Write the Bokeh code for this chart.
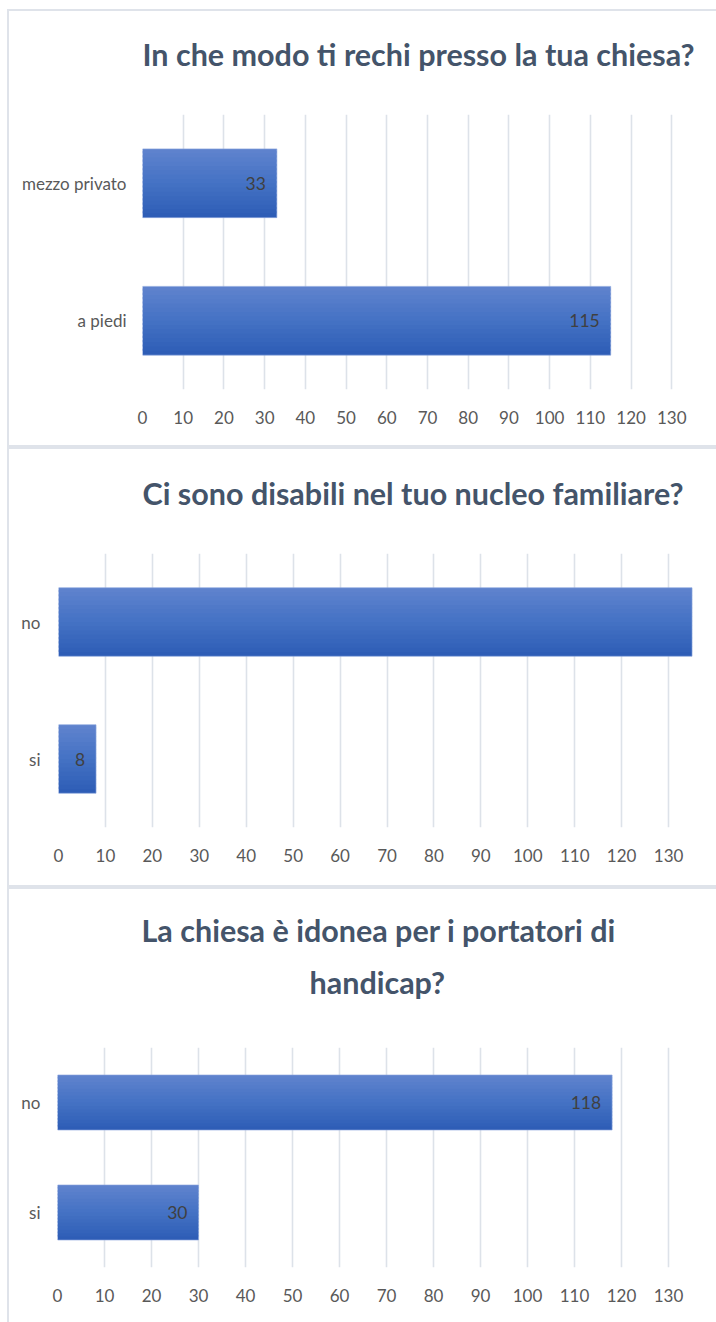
from bokeh.plotting import figure
from bokeh.models import Range1d, FactorRange, FixedTicker, LabelSet, ColumnDataSource, Title
from bokeh.transform import dodge
from bokeh.embed import file_html
from bokeh.resources import INLINE
from bokeh.core.properties import value

# ---------------- data ----------------
ticks = [0, 10, 20, 30, 40, 50, 60, 70, 80, 90, 100, 110, 120, 130]

title1 = ["In che modo ti rechi presso la tua chiesa?"]
cats1 = ["a piedi", "mezzo privato"]
vals1 = [115, 33]
show1 = [True, True]

title2 = ["Ci sono disabili nel tuo nucleo familiare?"]
cats2 = ["si", "no"]
vals2 = [8, 135]
show2 = [True, False]

title3 = ["La chiesa è idonea per i portatori di", "handicap?"]
cats3 = ["si", "no"]
vals3 = [30, 118]
show3 = [True, True]

# ---------------- style ----------------
FONT = "Lato"
TITLE_C = "#44546A"
TICK_C = "#595959"
LABEL_C = "#404040"
GRID_C = "#DDE2E9"
BORDER_C = "#DFE3EA"
TOP_C = (0x60, 0x83, 0xCE)
MID_C = (0x44, 0x72, 0xC4)
BOT_C = (0x2D, 0x5C, 0xB5)
N_STRIPS = 16


def strip_color(t):
    if t < 0.5:
        a, b, u = BOT_C, MID_C, t / 0.5
    else:
        a, b, u = MID_C, TOP_C, (t - 0.5) / 0.5
    return "#%02x%02x%02x" % tuple(int(round(a[i] + (b[i] - a[i]) * u)) for i in range(3))


def make_panel(title_lines, cats, vals, show, geo):
    st = {
        "border-top": "2px solid " + BORDER_C,
        "border-left": "2px solid " + BORDER_C,
        "margin-left": "7px",
    }
    if geo.get("bb", True):
        st["border-bottom"] = "2px solid " + BORDER_C
    if geo.get("mt"):
        st["margin-top"] = "%dpx" % geo["mt"]
    p = figure(
        width=709, height=geo["h"],
        y_range=FactorRange(*cats), x_range=Range1d(0, 140),
        output_backend="svg", toolbar_location=None,
        min_border_left=geo["l"], min_border_right=geo["r"],
        min_border_top=geo["t"], min_border_bottom=geo["b"],
        styles=st,
    )
    p.outline_line_color = None
    p.background_fill_color = "white"
    p.border_fill_color = "white"

    src = ColumnDataSource(dict(cat=cats, val=vals))
    bar_h = 0.5
    sh = bar_h / N_STRIPS
    top = bar_h / 2
    for k in range(N_STRIPS):
        b0 = -bar_h / 2 + k * sh
        b1 = min(b0 + 1.5 * sh, top)
        col = strip_color((k + 0.5) / N_STRIPS)
        p.hbar(y=dodge("cat", (b0 + b1) / 2, range=p.y_range), left=0, right="val",
               height=b1 - b0, source=src, fill_color=col, line_color=None)
    p.hbar(y="cat", left=0, right="val", height=bar_h, source=src,
           fill_color=None, line_color="#8AA6DC", line_width=0.8, line_alpha=0.8)

    lc = [c for c, s in zip(cats, show) if s]
    lv = [v for v, s in zip(vals, show) if s]
    lsrc = ColumnDataSource(dict(cat=lc, val=lv, txt=[str(v) for v in lv]))
    p.add_layout(LabelSet(x="val", y="cat", text="txt", source=lsrc,
                          x_offset=-11, text_align="right", text_baseline="middle",
                          text_font=value(FONT), text_font_size="17.5px",
                          text_color=LABEL_C))

    p.xaxis.ticker = FixedTicker(ticks=ticks)
    p.xgrid.ticker = FixedTicker(ticks=ticks)
    p.xgrid.grid_line_color = GRID_C
    p.xgrid.grid_line_width = 1.6
    p.ygrid.grid_line_color = None

    for ax in (p.xaxis[0], p.yaxis[0]):
        ax.axis_line_color = None
        ax.major_tick_line_color = None
        ax.minor_tick_line_color = None
        ax.major_tick_out = 0
        ax.major_tick_in = 0
        ax.major_label_text_font = FONT
        ax.major_label_text_font_size = "17px"
        ax.major_label_text_color = TICK_C
    p.xaxis.major_label_standoff = geo["xs"]
    p.yaxis.major_label_standoff = geo["ys"]

    # spacer between frame and title (nearest to the frame)
    p.add_layout(Title(text=" ", text_font_size="1px", standoff=geo["gap"],
                       text_color="white"), "above")
    n = len(title_lines)
    for i, line in enumerate(reversed(title_lines)):
        p.add_layout(Title(text=line, align="left", offset=geo["tx"][n - 1 - i],
                           text_font=FONT, text_font_size=geo["fs"],
                           text_font_style="bold", text_color=TITLE_C,
                           standoff=geo["ls"], vertical_align="bottom"), "above")
    return p


p1 = make_panel(title1, cats1, vals1, show1,
                dict(h=438, mt=9, l=133, r=6, t=103, b=60, xs=21, ys=16,
                     tx=[0], fs="30.5px", ls=0, gap=40))
p2 = make_panel(title2, cats2, vals2, show2,
                dict(h=440, l=49, r=3, t=104, b=62, xs=21, ys=18,
                     tx=[84], fs="30.5px", ls=0, gap=40))
p3 = make_panel(title3, cats3, vals3, show3,
                dict(h=435, l=48, r=3, t=158, b=57, xs=21, ys=17, bb=False,
                     tx=[84, 252], fs="30.5px", ls=14, gap=38))

open("out.html", "w").write(file_html([p1, p2, p3], INLINE))
